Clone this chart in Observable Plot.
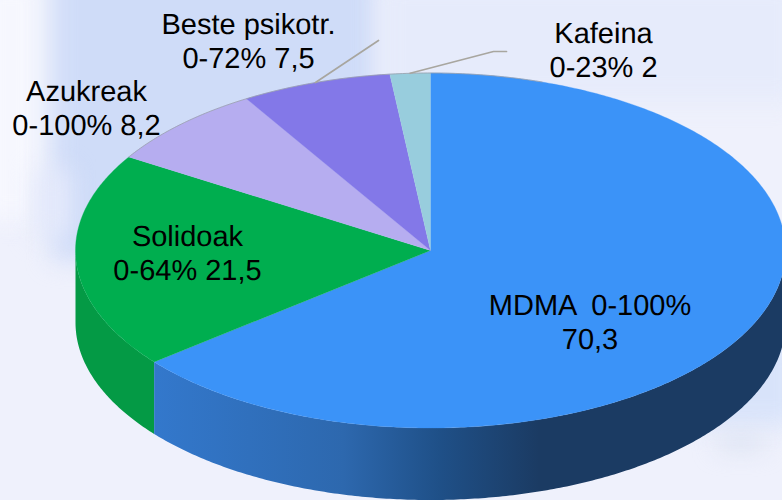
<!DOCTYPE html>
<html>
<head>
<meta charset="utf-8">
<script src="https://cdn.jsdelivr.net/npm/d3@7"></script>
<script src="https://cdn.jsdelivr.net/npm/@observablehq/plot@0.6"></script>
<style>
html,body{margin:0;padding:0;width:782px;height:500px;overflow:hidden;background:#eff1fc;}
#bg{position:absolute;left:0;top:0;width:782px;height:500px;overflow:hidden;}
#bg div{position:absolute;filter:blur(12px);}
#chart{position:absolute;left:0;top:0;}
#chart text{font-family:"Liberation Sans",Arial,sans-serif;text-rendering:geometricPrecision;}
</style>
</head>
<body>
<div id="bg">
  <div style="left:-20px;top:-20px;width:62px;height:240px;background:#f6f7fe"></div>
  <div style="left:52px;top:-30px;width:325px;height:290px;background:#cfdcf8"></div>
  <div style="left:380px;top:-20px;width:420px;height:122px;background:#e6ebfb"></div>
  <div style="left:34px;top:170px;width:36px;height:66px;background:#e4e9fb"></div>
  <div style="left:690px;top:340px;width:110px;height:85px;background:#d8e3fa"></div>
  <div style="left:718px;top:438px;width:46px;height:10px;background:#d2dbec"></div>
</div>
<div id="chart"></div>
<script>
// Data
const names  = ["MDMA", "Solidoak", "Azukreak", "Beste psikotr.", "Kafeina"];
const ranges = ["0-100%", "0-64%", "0-100%", "0-72%", "0-23%"];
const values = [70.3, 21.5, 8.2, 7.5, 2];

// Styles and layout, kept apart from the data
const topColors = ["#3b93f8", "#00ae4f", "#b6adf0", "#8378e8", "#98cddd"];
const sideGreen = "#049a45";
const lineGray = "#a8a69f";
const cx = 430, cy = 250, rx = 355, ry = 177.5, depth = 72;
const W = 782, H = 500;

const arcs = d3.pie().sort(null)(values);
const pt = (a, drop = 0) => ({x: Math.sin(a), y: Math.cos(a) - drop});
const sweep = (a0, a1, drop = 0) => {
  const n = Math.max(2, Math.ceil(Math.abs(a1 - a0) / 0.01));
  return d3.range(n + 1).map(i => pt(a0 + (a1 - a0) * i / n, drop));
};
const dropU = depth / ry;
const slices = arcs.flatMap((d, i) =>
  [{x: 0, y: 0}, ...sweep(d.startAngle, d.endAngle)].map(p => ({...p, name: names[i]})));
const wall = (a0, a1) => [...sweep(a0, a1), ...sweep(a1, a0, dropU)];
const half = Math.PI / 2;
const blueWall = wall(half, arcs[0].endAngle);
const greenWall = wall(arcs[0].endAngle, 3 * half);
const rimEdge = sweep(arcs[1].endAngle, 2 * Math.PI + 0.32);
const pxX = v => (v - cx) / rx, pxY = v => (cy - v) / ry;

const mid = i => (arcs[i].startAngle + arcs[i].endAngle) / 2;
const leaderBeste = [pt(mid(3)), {x: pxX(378), y: pxY(40)}];
const leaderKafeina = [pt(mid(4)), {x: pxX(493), y: pxY(51)}, {x: pxX(506), y: pxY(51)}];

const fmt = v => String(v).replace(".", ",");
const labelText = names.map((n, i) => i === 0
  ? `${n}\u2009 ${ranges[i]}\n${fmt(values[i])}`
  : `${n}\n${ranges[i]} ${fmt(values[i])}`);
const labelAt = [[589.5, 321], [187, 252], [86, 107], [248, 40], [603, 49]];
const labels = labelText.map((t, i) => ({t, x: pxX(labelAt[i][0]), y: pxY(labelAt[i][1])}));

const defs = () => {
  const d = d3.create("svg:defs");
  const g = d.append("linearGradient").attr("id", "blueSide");
  [[0, "#3378cc"], [0.3, "#2d68ae"], [0.45, "#1f5088"], [0.61, "#1b3b63"], [1, "#1b3b63"]]
    .forEach(([o, c]) => g.append("stop").attr("offset", o).attr("stop-color", c));
  return d.node();
};

const chart = Plot.plot({
  width: W, height: H,
  margin: 0,
  style: {background: "transparent"},
  x: {domain: [pxX(0), pxX(W)], range: [0, W], axis: null},
  y: {domain: [pxY(H), pxY(0)], range: [H, 0], axis: null},
  color: {domain: names, range: topColors},
  marks: [
    defs,
    Plot.line(greenWall, {x: "x", y: "y", fill: sideGreen, stroke: "none", curve: "linear"}),
    Plot.line(blueWall, {x: "x", y: "y", fill: "url(#blueSide)", stroke: "none", curve: "linear"}),
    Plot.line(slices, {x: "x", y: "y", z: "name", fill: "name", stroke: "name", strokeWidth: 0.3, curve: "linear"}),
    Plot.line(rimEdge, {x: "x", y: "y", stroke: "#9aa0ac", strokeWidth: 1, strokeOpacity: 0.8}),
    Plot.line(leaderBeste, {x: "x", y: "y", stroke: lineGray, strokeWidth: 1.7}),
    Plot.line(leaderKafeina, {x: "x", y: "y", stroke: lineGray, strokeWidth: 1.7}),
    Plot.text(labels, {x: "x", y: "y", text: "t", fontSize: 29, lineHeight: 1.17, fill: "black", textAnchor: "middle", lineAnchor: "middle"})
  ]
});
document.getElementById("chart").appendChild(chart);
</script>
</body>
</html>
